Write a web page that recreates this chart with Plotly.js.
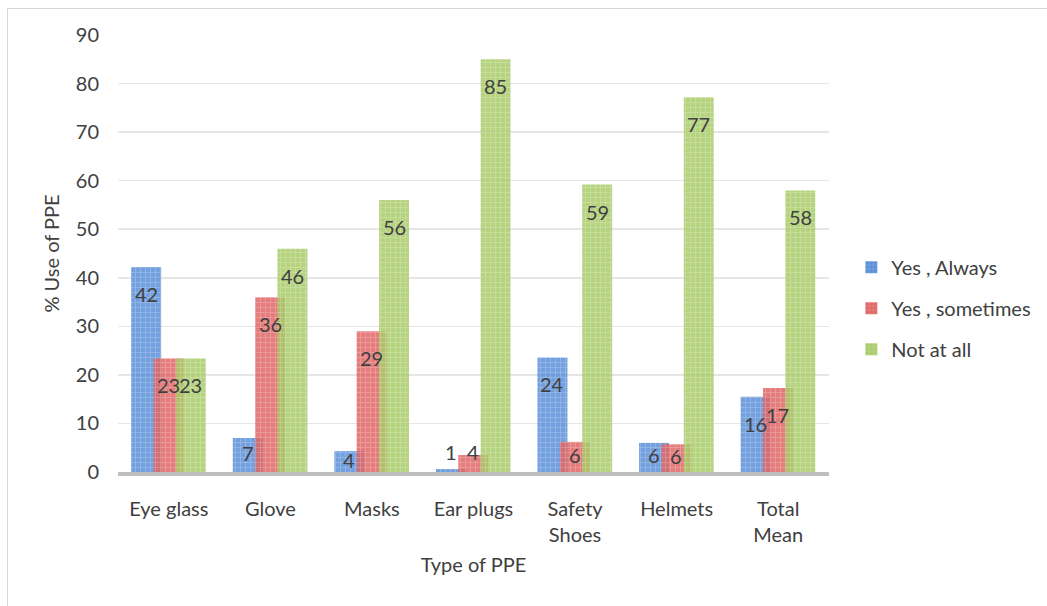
<!DOCTYPE html>
<html><head><meta charset="utf-8">
<script src="https://cdn.plot.ly/plotly-3.0.1.min.js"></script>
<style>
html,body{margin:0;padding:0;background:#fff;}
#frame{position:absolute;left:7px;top:8px;width:1045px;height:602px;border:1px solid #d9d9d9;box-sizing:border-box;pointer-events:none;z-index:5;}
#chart{width:1047px;height:606px;}
</style>
</head><body>
<div id="frame"></div>
<div id="chart"></div>
<script>
var categories = ["Eye glass", "Glove", "Masks", "Ear plugs", "Safety<br>Shoes", "Helmets", "Total<br>Mean"];
var yesAlways = [42.2, 7, 4.3, 0.6, 23.6, 6, 15.5];
var yesSometimes = [23.4, 36, 29, 3.5, 6.2, 5.7, 17.3];
var notAtAll = [23.4, 46, 56, 85, 59.2, 77.2, 58];
var seriesNames = ["Yes , Always", "Yes , sometimes", "Not at all"];

var colors = ["#5a8fd8", "#e06666", "#a9cc6a"];
var offsets = [-0.37, -0.15, 0.07];
var barWidth = 0.295;
var font = "Lato, 'Open Sans', sans-serif";
var plotH = 437, yMax = 90;
var pxPerUnit = plotH / yMax;

function mk(vals, i) {
  return {
    type: "bar",
    x: categories,
    y: vals,
    name: seriesNames[i],
    legendgroup: "g" + i,
    offset: offsets[i],
    width: barWidth,
    marker: {
      color: colors[i],
      opacity: 0.85,
      line: {width: 0},
      pattern: {shape: "+", fgcolor: "rgba(255,255,255,0.5)", size: 5, solidity: 0.3, fillmode: "overlay"}
    },
    hoverinfo: "x+y+name"
  };
}

var allSeries = [yesAlways, yesSometimes, notAtAll];
var data = allSeries.map(mk);

var annotations = [];
allSeries.forEach(function(vals, i){
  vals.forEach(function(v, j){
    var hpx = v * pxPerUnit;
    var a = {
      x: j + offsets[i] + barWidth / 2,
      y: v,
      xref: "x", yref: "y",
      text: String(Math.round(v)),
      showarrow: false,
      font: {family: font, size: 20, color: "#404040"},
      xanchor: "center",
      yanchor: "middle"
    };
    if (hpx < 18) {
      a.y = 0; a.yshift = 20;
    } else if (hpx < 54) {
      a.yshift = -hpx / 2 + 2;
    } else {
      a.yshift = -27;
    }
    annotations.push(a);
  });
});

var layout = {
  width: 1047, height: 606,
  margin: {l: 118, r: 217, t: 35, b: 134},
  barmode: "overlay",
  paper_bgcolor: "#fff",
  plot_bgcolor: "#fff",
  font: {family: font, size: 20, color: "#404040"},
  annotations: annotations,
  xaxis: {
    range: [-0.5, 6.5],
    showgrid: false,
    showline: true, linecolor: "#bfbfbf", linewidth: 4,
    ticks: "",
    ticklabelstandoff: 16,
    tickfont: {family: font, size: 20, color: "#404040"},
    title: {text: "Type of PPE", font: {family: font, size: 20, color: "#404040"}, standoff: 14},
    fixedrange: true
  },
  yaxis: {
    range: [0, yMax],
    dtick: 10,
    showgrid: true, gridcolor: "#e6e6e6", gridwidth: 1.5,
    zeroline: false,
    showline: false,
    ticks: "",
    ticklabelstandoff: 18,
    tickfont: {family: font, size: 20, color: "#404040"},
    title: {text: "% Use of PPE", font: {family: font, size: 20, color: "#404040"}, standoff: 10},
    fixedrange: true
  },
  legend: {
    x: 1.03, y: 0.375, xanchor: "left", yanchor: "middle",
    traceorder: "grouped",
    tracegroupgap: 12,
    font: {family: font, size: 20, color: "#404040"},
    itemwidth: 30
  },
  showlegend: true
};

Plotly.newPlot("chart", data, layout, {displayModeBar: false, staticPlot: true});
</script>
</body></html>
